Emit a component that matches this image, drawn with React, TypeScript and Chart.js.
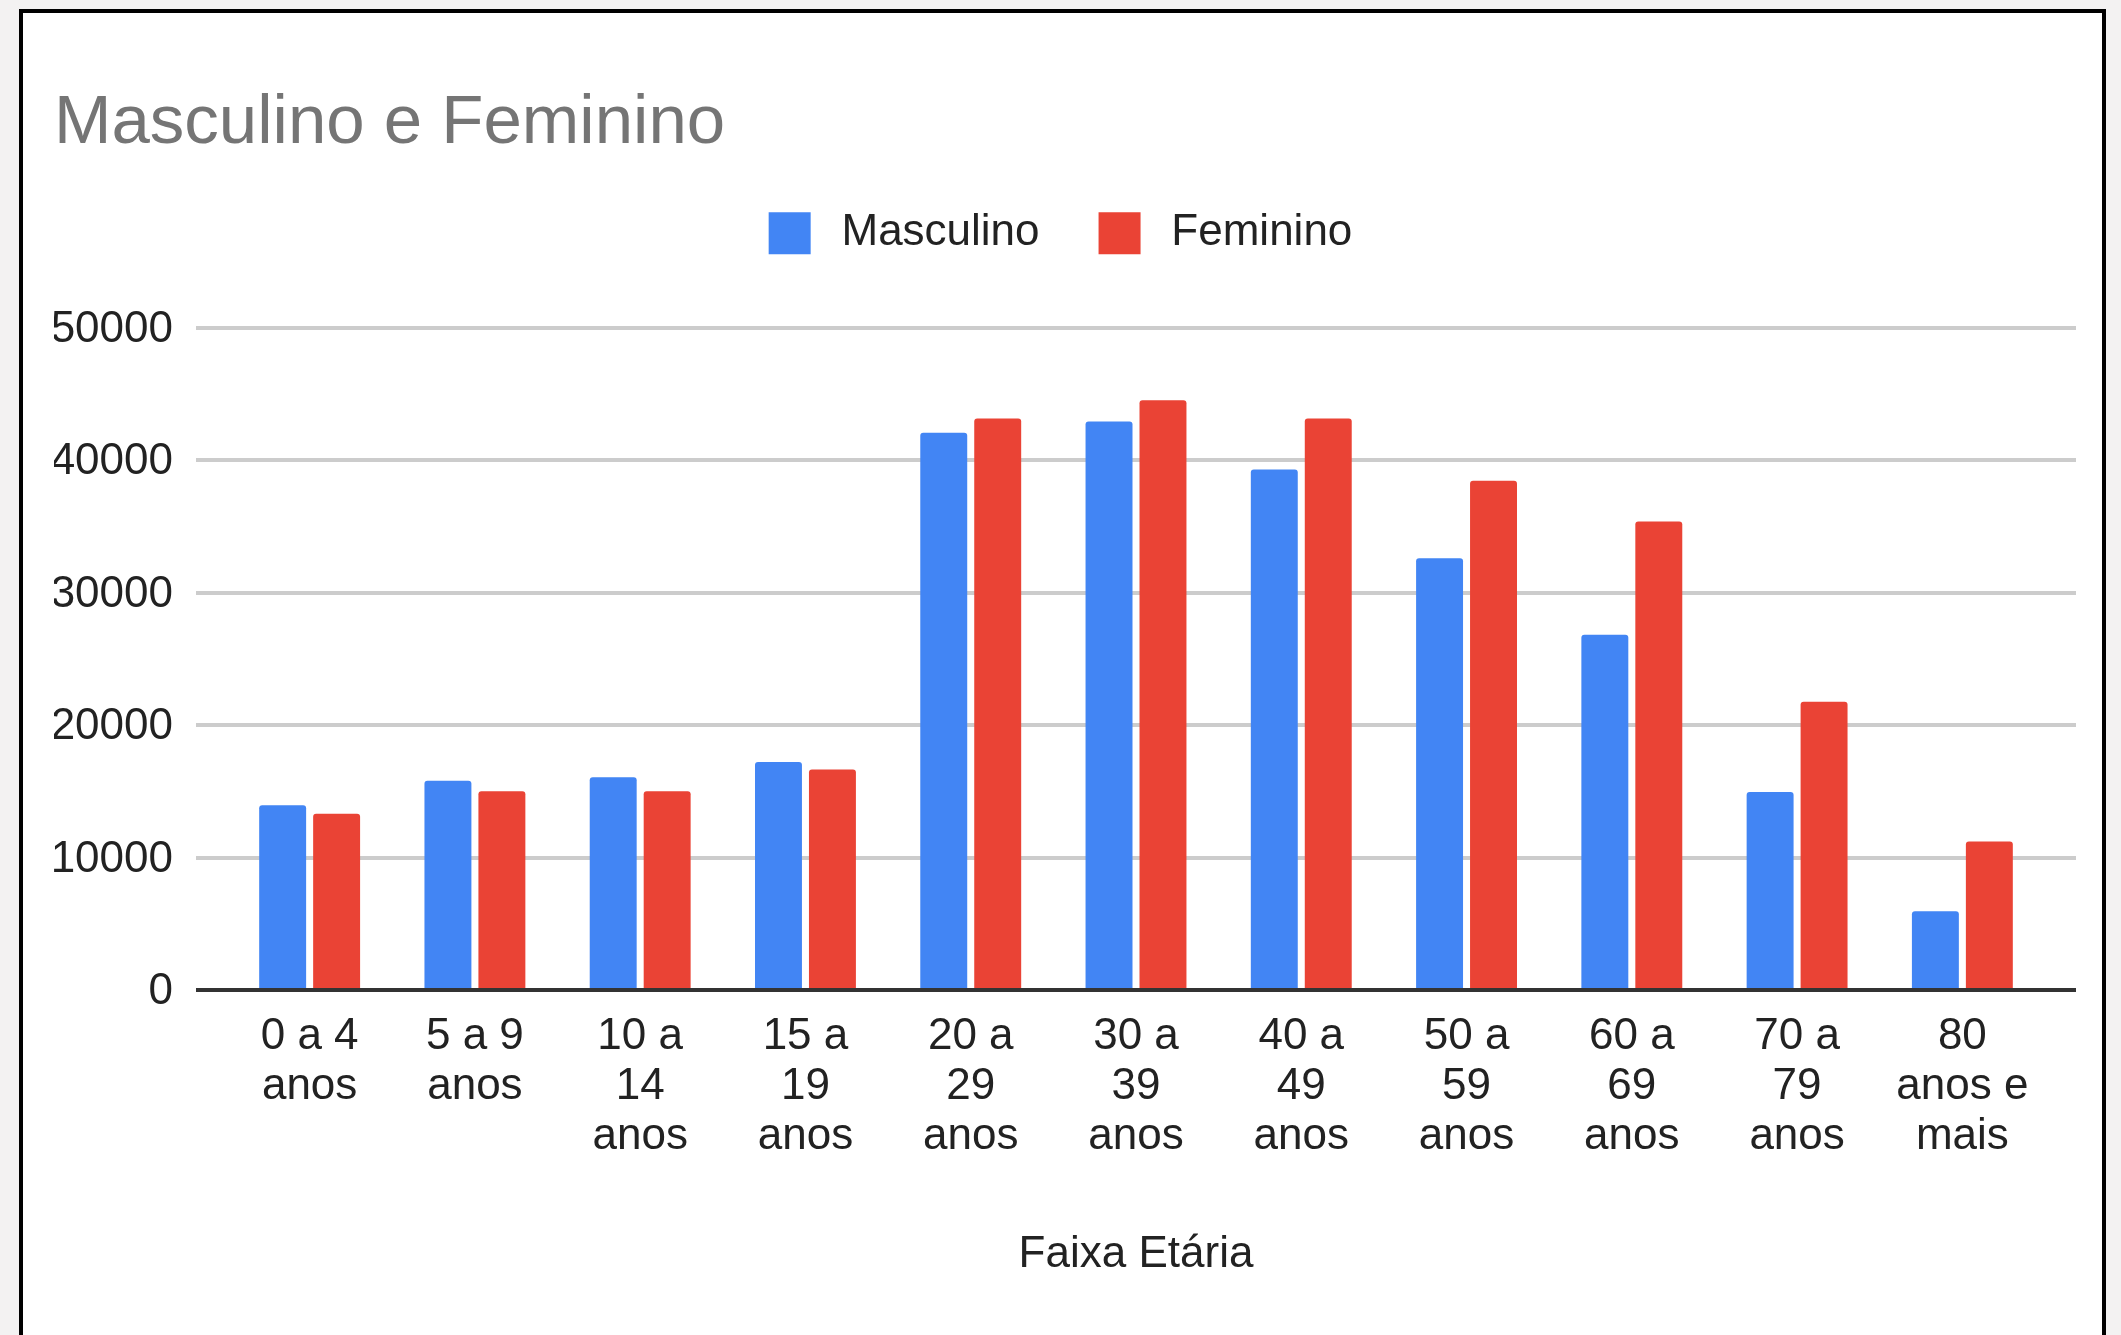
import React, { useEffect, useRef } from "react";
import { Chart, registerables } from "chart.js";

Chart.register(...registerables);

const categories: string[][] = [
  ["0 a 4", "anos"],
  ["5 a 9", "anos"],
  ["10 a", "14", "anos"],
  ["15 a", "19", "anos"],
  ["20 a", "29", "anos"],
  ["30 a", "39", "anos"],
  ["40 a", "49", "anos"],
  ["50 a", "59", "anos"],
  ["60 a", "69", "anos"],
  ["70 a", "79", "anos"],
  ["80", "anos e", "mais"],
];

const masculino = [13950, 15800, 16050, 17200, 42050, 42900, 39280, 32590, 26820, 14950, 5950];
const feminino = [13300, 15000, 15000, 16650, 43130, 44510, 43130, 38440, 35360, 21750, 11200];

const seriesNames = ["Masculino", "Feminino"];
const seriesColors = ["#4285f4", "#ea4335"];
const chartTitle = "Masculino e Feminino";
const xAxisTitle = "Faixa Etária";
const yTicks = [0, 10000, 20000, 30000, 40000, 50000];

const FONT = "'Liberation Sans', Arial, sans-serif";

const gridPlugin = {
  id: "extendedGrid",
  beforeDatasetsDraw(chart: any) {
    const { ctx, chartArea, scales } = chart;
    const y = scales.y;
    ctx.save();
    ctx.strokeStyle = "#cccccc";
    ctx.lineWidth = 4;
    yTicks.forEach((v) => {
      if (v === 0) return;
      const py = Math.round(y.getPixelForValue(v));
      ctx.beginPath();
      ctx.moveTo(chartArea.left - 31, py);
      ctx.lineTo(chartArea.right + 31, py);
      ctx.stroke();
    });
    ctx.restore();
  },
  afterDatasetsDraw(chart: any) {
    const { ctx, chartArea, scales } = chart;
    const y = scales.y;
    const py = Math.round(y.getPixelForValue(0));
    ctx.save();
    ctx.strokeStyle = "#333333";
    ctx.lineWidth = 4;
    ctx.beginPath();
    ctx.moveTo(chartArea.left - 31, py);
    ctx.lineTo(chartArea.right + 31, py);
    ctx.stroke();
    ctx.restore();
  },
};

export default function App() {
  const canvasRef = useRef<HTMLCanvasElement | null>(null);

  useEffect(() => {
    if (!canvasRef.current) return;
    Chart.defaults.font.family = FONT;
    const chart = new Chart(canvasRef.current, {
      type: "bar",
      data: {
        labels: categories,
        datasets: [
          {
            label: seriesNames[0],
            data: masculino,
            backgroundColor: seriesColors[0],
            borderWidth: 0,
            borderRadius: { topLeft: 3, topRight: 3, bottomLeft: 0, bottomRight: 0 },
            borderSkipped: false,
            categoryPercentage: 0.653,
            barPercentage: 0.87,
          },
          {
            label: seriesNames[1],
            data: feminino,
            backgroundColor: seriesColors[1],
            borderWidth: 0,
            borderRadius: { topLeft: 3, topRight: 3, bottomLeft: 0, bottomRight: 0 },
            borderSkipped: false,
            categoryPercentage: 0.653,
            barPercentage: 0.87,
          },
        ],
      },
      options: {
        responsive: false,
        maintainAspectRatio: false,
        animation: false,
        devicePixelRatio: 1,
        layout: { padding: { top: 0, left: 54, right: 54, bottom: 0 } },
        plugins: {
          tooltip: { enabled: false },
          title: {
            display: true,
            text: chartTitle,
            align: "start",
            color: "#757575",
            font: { family: FONT, size: 69, weight: "normal", lineHeight: 0.8 },
            padding: { top: 96, bottom: 1 },
          },
          legend: {
            display: true,
            position: "top",
            align: "center",
            labels: {
              boxWidth: 42,
              boxHeight: 42,
              padding: 59,
              color: "#222222",
              font: { family: FONT, size: 44 },
              generateLabels: (c: any) =>
                Chart.defaults.plugins.legend.labels
                  .generateLabels(c)
                  .map((l: any) => ({ ...l, text: "\u2009" + l.text })),
            },
          },
        },
        scales: {
          x: {
            type: "category",
            position: "bottom",
            offset: true,
            grid: { display: false, drawTicks: false },
            border: { display: false },
            ticks: {
              color: "#222222",
              font: { family: FONT, size: 44, lineHeight: 50 / 44 },
              padding: 22,
              maxRotation: 0,
              minRotation: 0,
              autoSkip: false,
            },
            title: {
              display: true,
              text: xAxisTitle,
              color: "#222222",
              font: { family: FONT, size: 44 },
              padding: { top: 0, bottom: 53.5 },
            },
            afterFit: (s: any) => {
              s.height = 345;
            },
          },
          xtop: {
            type: "linear",
            axis: "x",
            position: "top",
            display: true,
            ticks: { display: false },
            grid: { display: false, drawTicks: false },
            border: { display: false },
            afterFit: (s: any) => {
              s.height = 62.3;
            },
          },
          y: {
            type: "linear",
            position: "left",
            min: 0,
            max: 50000,
            grid: { display: false, drawTicks: false },
            border: { display: false },
            ticks: {
              stepSize: 10000,
              color: "#222222",
              font: { family: FONT, size: 44 },
              padding: 54,
              labelOffset: 2,
              callback: (v: any) => String(v),
            },
            afterFit: (s: any) => {
              s.width = 173;
            },
          },
          yright: {
            type: "linear",
            axis: "y",
            position: "right",
            display: true,
            ticks: { display: false },
            grid: { display: false, drawTicks: false },
            border: { display: false },
            afterFit: (s: any) => {
              s.width = 22;
            },
          },
        },
      } as any,
      plugins: [gridPlugin],
    });
    return () => chart.destroy();
  }, []);

  return (
    <div
      style={{
        position: "absolute",
        left: 0,
        top: 0,
        width: 2121,
        height: 1335,
        background: "#f3f2f2",
        overflow: "hidden",
      }}
    >
      <div
        style={{
          position: "absolute",
          left: 19,
          top: 9,
          width: 2087,
          height: 1400,
          boxSizing: "border-box",
          border: "4px solid #000",
          background: "#ffffff",
        }}
      />
      <canvas
        ref={canvasRef}
        width={2121}
        height={1335}
        style={{ position: "absolute", left: 0, top: 0, width: 2121, height: 1335 }}
      />
    </div>
  );
}
